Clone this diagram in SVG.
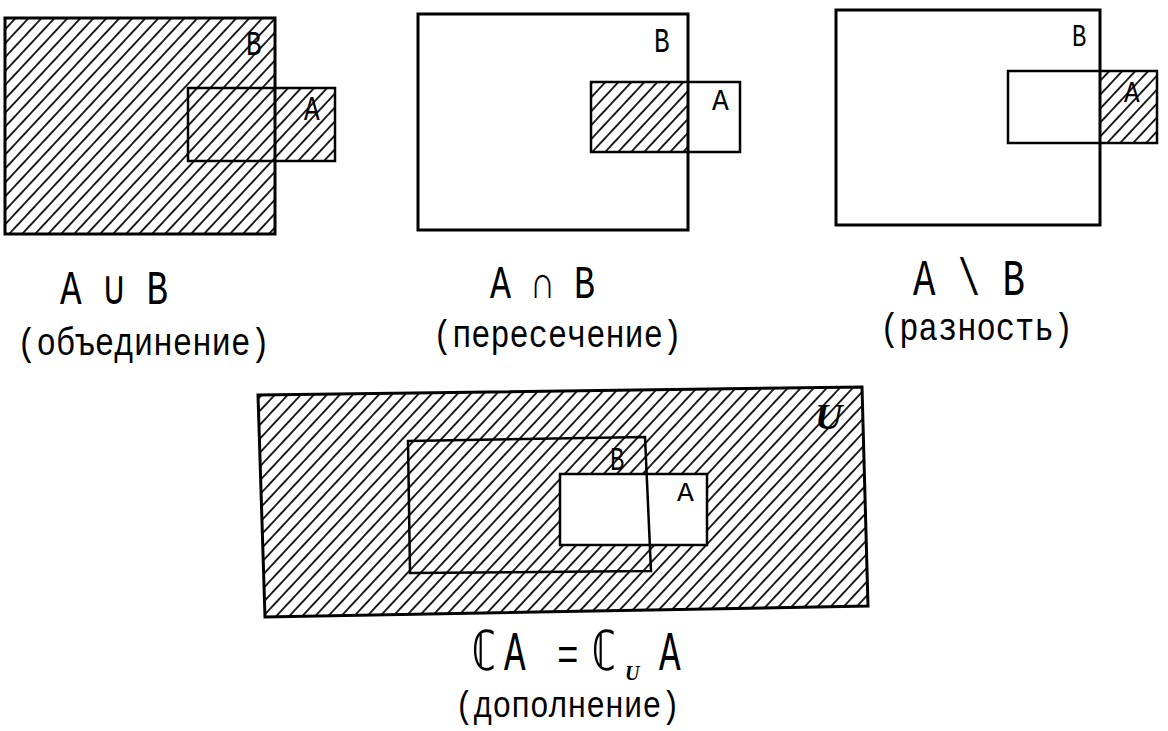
<svg xmlns="http://www.w3.org/2000/svg" width="1168" height="731" viewBox="0 0 1168 731">
<style>
.t{font-family:"Liberation Mono","DejaVu Sans Mono",monospace;fill:#000}
.o{fill:none;stroke:#000;stroke-width:3}
.i{stroke:#000;stroke-width:2.5}
.h{fill:url(#hatch)}
.w{fill:#fff}
</style>
<defs>
<pattern id="hatch" patternUnits="userSpaceOnUse" width="9.5" height="9.5" patternTransform="rotate(43)">
<rect width="9.5" height="9.5" fill="#fff"/>
<line x1="4.75" y1="-1" x2="4.75" y2="10.5" stroke="#000" stroke-width="1.7"/>
</pattern>
</defs>
<rect width="1168" height="731" fill="#fff"/>

<g id="union">
<rect x="5" y="18" width="270" height="216" class="h"/>
<rect x="188" y="88" width="147" height="73" class="h"/>
<rect x="5" y="18" width="270" height="216" class="o"/>
<rect x="188" y="88" width="147" height="73" class="i" fill="none"/>
<text class="t" font-size="26" transform="translate(246,55) scale(1,1.35)">B</text>
<text class="t" font-size="26" transform="translate(304,120) scale(1,1.35)">A</text>
</g>

<g id="intersection">
<rect x="591" y="82" width="97" height="70" class="h"/>
<rect x="418" y="14" width="270" height="216" class="o"/>
<rect x="591" y="82" width="149" height="70" class="i" fill="none"/>
<text class="t" font-size="26" transform="translate(654,52) scale(1,1.35)">B</text>
<text class="t" font-size="28" transform="translate(712,110) scale(1,1.05)">A</text>
</g>

<g id="difference">
<rect x="1100" y="71" width="57" height="72" class="h"/>
<rect x="836" y="10" width="264" height="215" class="o"/>
<rect x="1008" y="71" width="149" height="72" class="i" fill="none"/>
<text class="t" font-size="24" transform="translate(1072,46) scale(1,1.3)">B</text>
<text class="t" font-size="26" transform="translate(1124,102) scale(1,1.15)">A</text>
</g>

<g id="complement">
<polygon points="258,395 862,387 868,606 265,617" class="h"/>
<rect x="560" y="474" width="147" height="71" class="w"/>
<polygon points="258,395 862,387 868,606 265,617" class="o"/>
<polygon points="408,441 645,437 651,571 410,573" class="i" fill="none"/>
<rect x="560" y="474" width="147" height="71" class="i" fill="none" stroke-width="2"/>
<text class="t" font-size="24" transform="translate(610,470) scale(1,1.35)">B</text>
<text class="t" font-size="28" transform="translate(677,501) scale(1,1.0)">A</text>
<text font-family="Liberation Serif,serif" font-style="italic" font-weight="bold" font-size="38" transform="translate(815,429) scale(1,0.95)">U</text>
</g>

<g id="labels">
<text class="t" font-size="32" textLength="108" lengthAdjust="spacingAndGlyphs" transform="translate(60,304) scale(1,1.5)">A ∪ B</text>
<text class="t" font-size="32" textLength="253" lengthAdjust="spacingAndGlyphs" transform="translate(17,355) scale(1,1.2)">(объединение)</text>
<text class="t" font-size="32" textLength="105" lengthAdjust="spacingAndGlyphs" transform="translate(490,298) scale(1,1.45)">A ∩ B</text>
<text class="t" font-size="32" textLength="249" lengthAdjust="spacingAndGlyphs" transform="translate(433,347) scale(1,1.2)">(пересечение)</text>
<text class="t" font-size="32" textLength="112" lengthAdjust="spacingAndGlyphs" transform="translate(913,295) scale(1,1.6)">A \ B</text>
<text class="t" font-size="32" textLength="193" lengthAdjust="spacingAndGlyphs" transform="translate(880,340) scale(1,1.2)">(разность)</text>
<text class="t" font-size="38" textLength="26" lengthAdjust="spacingAndGlyphs" transform="translate(471,670) scale(1,1.45)">ℂ</text>
<text class="t" font-size="36" transform="translate(504,670) scale(1,1.55)">A</text>
<text class="t" font-size="36" transform="translate(557,670) scale(1,1.3)">=</text>
<text class="t" font-size="38" textLength="26" lengthAdjust="spacingAndGlyphs" transform="translate(591,670) scale(1,1.45)">ℂ</text>
<text font-family="Liberation Serif,serif" font-style="italic" font-weight="bold" font-size="20" transform="translate(625,680)">U</text>
<text class="t" font-size="36" transform="translate(659,670) scale(1,1.55)">A</text>
<text class="t" font-size="32" textLength="225" lengthAdjust="spacingAndGlyphs" transform="translate(455,717) scale(1,1.15)">(дополнение)</text>
</g>
</svg>
